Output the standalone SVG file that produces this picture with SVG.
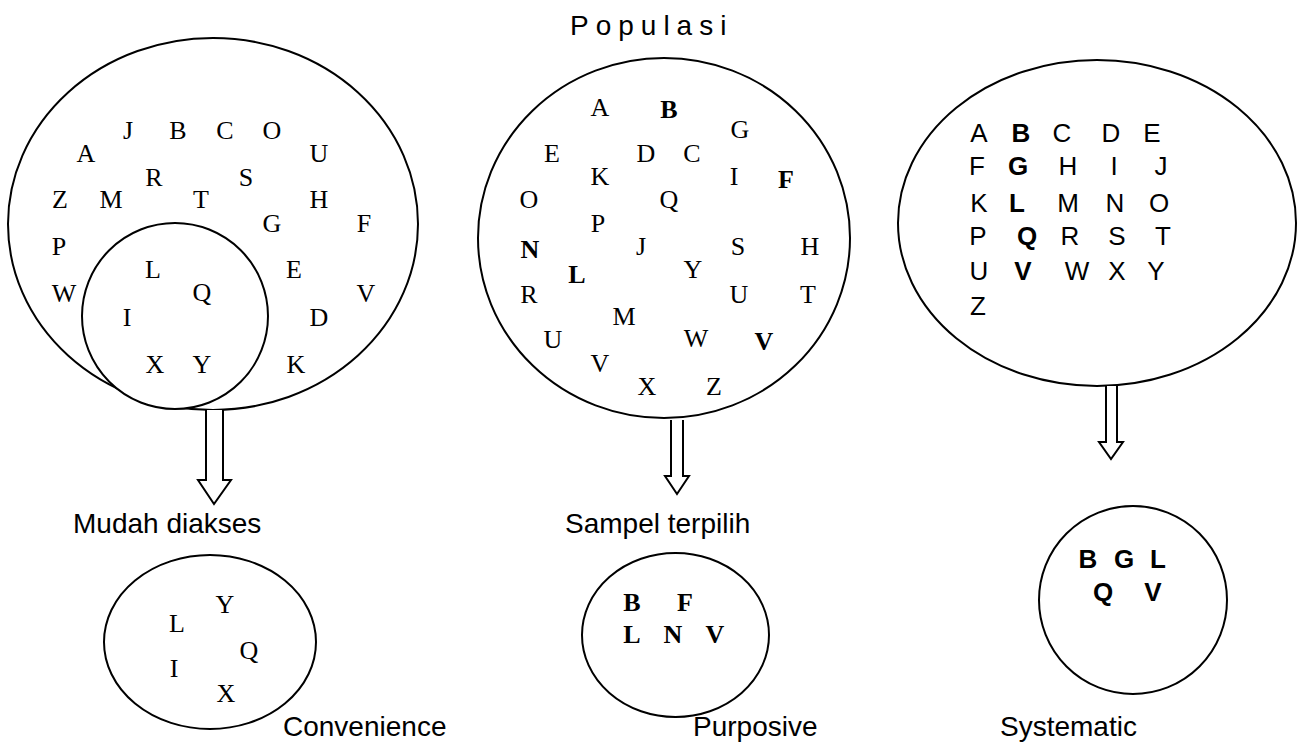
<svg xmlns="http://www.w3.org/2000/svg" width="1306" height="744" viewBox="0 0 1306 744">
<style>
.shape{fill:#fff;stroke:#000;stroke-width:2}
.arrow{fill:#fff;stroke:#000;stroke-width:2;stroke-linejoin:miter}
.s{font-family:"Liberation Serif","Times New Roman",serif;font-size:26px;fill:#000;text-anchor:middle}
.b{font-weight:bold}
.c{font-family:"Liberation Sans",Arial,sans-serif;font-size:26px;fill:#000;text-anchor:middle}
.lbl{font-family:"Liberation Sans",Arial,sans-serif;font-size:28px;fill:#000}
</style>
<rect width="1306" height="744" fill="#fff"/>
<text id="title" class="lbl" x="570" y="35" font-size="26" letter-spacing="7">Populasi</text>

<g id="pop-convenience">
<ellipse class="shape" cx="213" cy="224" rx="205" ry="186"/>
<g class="s">
<text x="128" y="139">J</text><text x="178" y="139">B</text><text x="225" y="139">C</text><text x="272" y="139">O</text>
<text x="86" y="162">A</text><text x="319" y="162">U</text>
<text x="154" y="186">R</text><text x="246" y="186">S</text>
<text x="60" y="208">Z</text><text x="111" y="208">M</text><text x="201" y="208">T</text><text x="319" y="208">H</text>
<text x="272" y="232">G</text><text x="364" y="232">F</text>
<text x="59" y="255">P</text>
<text x="294" y="278">E</text>
<text x="64" y="302">W</text><text x="366" y="302">V</text>
<text x="319" y="326">D</text>
<text x="296" y="373">K</text>
</g>
</g>
<g id="accessible">
<circle class="shape" cx="175" cy="316" r="93"/>
<g class="s">
<text x="153" y="278">L</text>
<text x="202" y="301">Q</text>
<text x="127" y="326">I</text>
<text x="155" y="373">X</text><text x="202" y="373">Y</text>
</g>
</g>

<g id="pop-purposive">
<ellipse class="shape" cx="664" cy="238" rx="186" ry="180"/>
<g class="s">
<text x="600" y="116">A</text><text class="b" x="669" y="118">B</text>
<text x="740" y="138">G</text>
<text x="552" y="162">E</text><text x="646" y="162">D</text><text x="692" y="162">C</text>
<text x="600" y="185">K</text><text x="734" y="185">I</text><text class="b" x="786" y="188">F</text>
<text x="529" y="208">O</text><text x="669" y="208">Q</text>
<text x="598" y="232">P</text>
<text class="b" x="530" y="258">N</text><text x="641" y="255">J</text><text x="738" y="255">S</text><text x="810" y="255">H</text>
<text class="b" x="577" y="283">L</text><text x="693" y="278">Y</text>
<text x="529" y="303">R</text><text x="739" y="303">U</text><text x="808" y="303">T</text>
<text x="624" y="325">M</text>
<text x="553" y="348">U</text><text x="696" y="347">W</text><text class="b" x="764" y="350">V</text>
<text x="600" y="372">V</text>
<text x="647" y="395">X</text><text x="714" y="395">Z</text>
</g>
</g>

<g id="pop-systematic">
<ellipse class="shape" cx="1097" cy="223" rx="199" ry="163"/>
<g class="c">
<text x="979" y="142">A</text><text class="b" x="1021" y="142">B</text><text x="1062" y="142">C</text><text x="1111" y="142">D</text><text x="1152" y="142">E</text>
<text x="977" y="175">F</text><text class="b" x="1018" y="175">G</text><text x="1068" y="175">H</text><text x="1114" y="175">I</text><text x="1161" y="175">J</text>
<text x="979" y="212">K</text><text class="b" x="1017" y="212">L</text><text x="1068" y="212">M</text><text x="1115" y="212">N</text><text x="1159" y="212">O</text>
<text x="978" y="245">P</text><text class="b" x="1027" y="245">Q</text><text x="1070" y="245">R</text><text x="1117" y="245">S</text><text x="1163" y="245">T</text>
<text x="979" y="280">U</text><text class="b" x="1023" y="280">V</text><text x="1077" y="280">W</text><text x="1117" y="280">X</text><text x="1156" y="280">Y</text>
<text x="978" y="315">Z</text>
</g>
</g>

<g id="connectors">
<polyline class="arrow" points="206,410 206,480 198,480 214,504 231,480 223,480 223,410"/>
<polyline class="arrow" points="671,420 671,476 665,476 677,494 689,476 683,476 683,420"/>
<polyline class="arrow" points="1106,386 1106,442 1099,442 1111,459 1123,442 1117,442 1117,386"/>
</g>

<text id="label-mudah" class="lbl" x="73" y="533">Mudah diakses</text>
<text id="label-sampel" class="lbl" x="565" y="533">Sampel terpilih</text>

<g id="sample-convenience">
<ellipse class="shape" cx="210" cy="642" rx="106" ry="87"/>
<g class="s">
<text x="225" y="613">Y</text>
<text x="177" y="632">L</text>
<text x="249" y="659">Q</text>
<text x="174" y="677">I</text>
<text x="226" y="702">X</text>
</g>
<text class="lbl" x="283" y="736">Convenience</text>
</g>

<g id="sample-purposive">
<ellipse class="shape" cx="675.5" cy="635" rx="93.5" ry="82"/>
<g class="s b">
<text x="632" y="611">B</text><text x="685" y="611">F</text>
<text x="632" y="643">L</text><text x="673" y="643">N</text><text x="715" y="643">V</text>
</g>
<text class="lbl" x="693" y="736">Purposive</text>
</g>

<g id="sample-systematic">
<circle class="shape" cx="1133" cy="600" r="94"/>
<g class="c b">
<text x="1088" y="568">B</text><text x="1124" y="568">G</text><text x="1158" y="568">L</text>
<text x="1103" y="601">Q</text><text x="1153" y="601">V</text>
</g>
<text class="lbl" x="1000" y="736">Systematic</text>
</g>
</svg>
